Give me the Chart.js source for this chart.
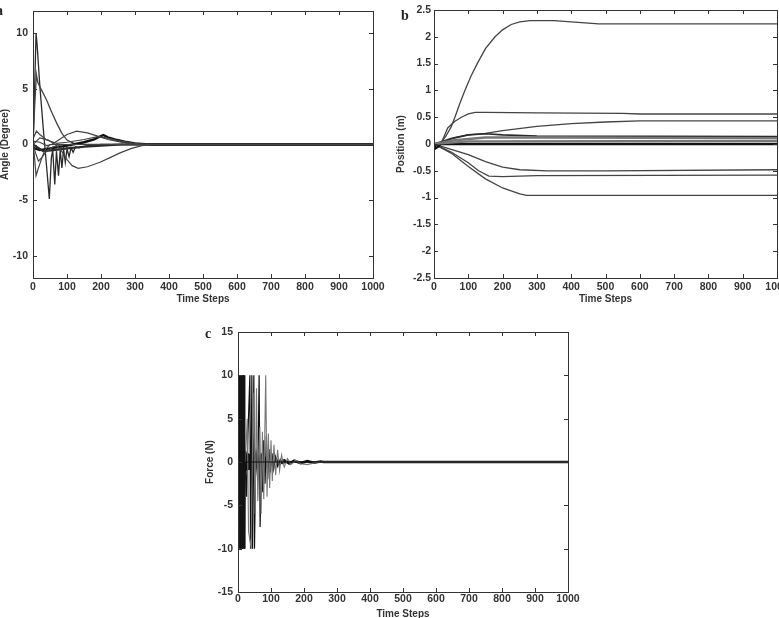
<!DOCTYPE html>
<html>
<head>
<meta charset="utf-8">
<script src="https://cdn.jsdelivr.net/npm/chart.js@4.4.1/dist/chart.umd.min.js"></script>
<style>
  body { margin: 0; background: #fff; overflow: hidden; width: 779px; height: 618px; position: relative; }
  .panel { position: absolute; }
  .tag { position: absolute; font: bold 14px 'Liberation Serif', 'Times New Roman', serif; color: #222; line-height: 14px; }
</style>
</head>
<body>
<div class="panel" style="left:0;top:0"><canvas id="chartA" width="390" height="305"></canvas></div>
<div class="panel" style="left:390px;top:0"><canvas id="chartB" width="410" height="305"></canvas></div>
<div class="panel" style="left:190px;top:305px"><canvas id="chartC" width="400" height="313"></canvas></div>
<div class="tag" style="left:-4px;top:4px">a</div>
<div class="tag" style="left:401px;top:9px">b</div>
<div class="tag" style="left:205px;top:327px">c</div>
<script>
// tick labels
const timeTicks = [0, 100, 200, 300, 400, 500, 600, 700, 800, 900, 1000];
const angleTicks = [-10, -5, 0, 5, 10];
const positionTicks = [-2.5, -2, -1.5, -1, -0.5, 0, 0.5, 1, 1.5, 2, 2.5];
const forceTicks = [-15, -10, -5, 0, 5, 10, 15];

// (a) angle, degrees vs time step
const angleSpike = [[0,0],[3,3],[9,10],[12,9],[20,5.3],[30,1.5],[40,-2],[48,-4.9],[54,-1.2],[58,-0.5],[64,-3.6],[69,-0.6],[75,-2.8],[80,-0.5],[85,-2.1],[90,-0.4],[95,-1.6],[100,-0.4],[106,-1.1],[112,-0.3],[118,-0.7],[125,-0.2],[135,-0.3],[160,-0.1],[200,0],[1000,0]];
const angleSlow = [[0,0],[5,3.5],[10,6.3],[14,5.6],[20,5.2],[40,4.0],[55,2.9],[70,1.9],[85,1.0],[100,0.4],[120,0.1],[150,0],[1000,0]];
const angleDip = [[0,0],[4,-1],[9,-2.8],[15,-2.2],[25,-1.3],[35,-0.5],[50,0],[1000,0]];
const angleDip2 = [[0,0],[8,-0.8],[16,-1.5],[25,-1.2],[40,-0.6],[60,-0.2],[90,0],[1000,0]];
const angleHumpUp = [[0,0.3],[20,0.2],[40,-0.1],[55,0],[80,0.5],[100,0.9],[128,1.2],[160,1.05],[190,0.75],[220,0.45],[260,0.2],[300,0.05],[340,0],[1000,0]];
const angleHumpDown = [[0,0],[20,0.6],[45,0.4],[65,0],[80,-0.4],[100,-1.35],[115,-1.9],[133,-2.15],[160,-2.0],[197,-1.6],[225,-1.2],[256,-0.75],[290,-0.35],[320,-0.1],[350,0],[1000,0]];
const anglePeak = [[0,-0.3],[20,-0.5],[60,-0.3],[100,-0.1],[150,0.2],[180,0.45],[195,0.7],[207,0.85],[220,0.65],[240,0.45],[270,0.25],[300,0.1],[330,0.03],[350,0],[1000,0]];
const angleSmall = [[0,0.5],[10,1.2],[20,0.9],[40,0.4],[70,0.1],[100,0.2],[150,0.45],[190,0.7],[215,0.6],[250,0.35],[290,0.15],[330,0],[1000,0]];
const angleFlat = [[0,0],[30,-0.6],[60,-0.5],[100,-0.35],[150,-0.2],[200,-0.1],[260,0],[1000,0]];

// (b) position, m vs time step
const posTop = [[0,0],[20,0.02],[35,0.15],[50,0.32],[61,0.5],[75,0.75],[90,1.0],[108,1.27],[126,1.5],[150,1.78],[178,2.0],[200,2.13],[225,2.23],[250,2.28],[280,2.3],[350,2.3],[420,2.27],[480,2.24],[1000,2.24]];
const posHigh = [[0,0],[20,0],[40,0.3],[60,0.42],[80,0.5],[100,0.56],[120,0.59],[150,0.59],[300,0.58],[550,0.57],[600,0.56],[1000,0.56]];
const posRise = [[0,0],[30,0.05],[60,0.12],[100,0.17],[150,0.2],[200,0.25],[300,0.33],[400,0.38],[500,0.41],[600,0.43],[1000,0.43]];
const posMid1 = [[0,0],[50,0.1],[100,0.17],[150,0.19],[200,0.17],[300,0.15],[1000,0.14]];
const posMid2 = [[0,0],[60,0.07],[150,0.12],[300,0.12],[1000,0.11]];
const posMid3 = [[0,0],[100,0.05],[1000,0.06]];
const posZero = [[0,0],[5,-0.08],[12,-0.05],[20,0],[1000,0]];
const posLow1 = [[0,0],[50,-0.1],[100,-0.2],[150,-0.33],[200,-0.43],[250,-0.48],[330,-0.5],[500,-0.5],[1000,-0.48]];
const posLow2 = [[0,0],[50,-0.15],[100,-0.35],[130,-0.5],[160,-0.6],[200,-0.61],[300,-0.59],[1000,-0.58]];
const posLow3 = [[0,0],[50,-0.17],[100,-0.42],[150,-0.65],[200,-0.82],[250,-0.93],[270,-0.96],[1000,-0.96]];

// (c) force, N vs time step
const forceSwitch = [[0,10],[1,-10],[2,10],[3,-10],[4,10],[5,-10],[6,10],[7,-10],[8,10],[9,-10],[10,10],[11,-10],[12,10],[13,-10],[14,10],[15,-10],[16,10],[17,-10],[18,10],[19,-10],[20,10],[21,-10],[22,0],[1000,0]];
const forceDark = [[22,0],[26,-4],[30,3],[36,10],[38,-10],[42,10],[44,-10],[48,10],[50,-10],[54,1],[60,-2],[64,10],[67,-7.5],[71,1],[75,-3.5],[78,2.5],[82,-2.5],[86,3],[90,-2],[94,1.5],[98,-1.2],[103,1],[108,-0.8],[114,0.6],[120,-0.5],[128,0.3],[136,-0.2],[150,0.1],[170,0],[1000,0]];
const forceGray = [[22,0],[28,5],[32,-8],[40,-10],[46,8],[52,-6],[56,8.5],[60,-4.5],[66,4],[70,-6],[74,3.5],[78,-4.3],[84,10],[88,-4],[92,3.3],[96,-3],[100,2.5],[104,-2.2],[109,2],[114,-1.5],[120,1.4],[126,-1],[132,0.8],[140,-0.6],[150,0.4],[160,-0.3],[175,0.2],[190,-0.2],[210,-0.3],[230,-0.1],[250,0],[1000,0]];
const forceBand = [[0,1.2],[22,1.1],[26,-1],[30,1],[34,-0.9],[38,0.9],[42,-0.8],[46,0.8],[50,-0.7],[55,0.7],[60,-0.6],[66,0.6],[72,-0.5],[80,0.45],[88,-0.4],[96,0.35],[105,-0.3],[115,0.3],[125,-0.25],[140,0.2],[155,-0.18],[170,0.15],[190,-0.12],[210,0.1],[230,-0.08],[250,0.05],[260,0],[1000,0]];

const tickFont = { family: "'Liberation Sans Narrow', 'Liberation Sans', Arial, sans-serif", size: 10.5, weight: 'bold' };
const titleFont = { family: "'Liberation Sans Narrow', 'Liberation Sans', Arial, sans-serif", size: 10, weight: 'bold' };

function line(points, color, width) {
  return {
    data: points.map(p => ({ x: p[0], y: p[1] })),
    borderColor: color,
    borderWidth: width,
    pointRadius: 0,
    tension: 0,
    fill: false
  };
}

// MATLAB style box with inward ticks on all sides
const framePlugin = {
  id: 'frame',
  afterDraw(chart) {
    const { ctx, chartArea: a, scales } = chart;
    ctx.save();
    ctx.strokeStyle = '#333';
    ctx.lineWidth = 1;
    ctx.strokeRect(Math.round(a.left) + 0.5, Math.round(a.top) + 0.5, Math.round(a.right - a.left), Math.round(a.bottom - a.top));
    ctx.beginPath();
    scales.x.ticks.forEach(t => {
      const px = Math.round(scales.x.getPixelForValue(t.value)) + 0.5;
      ctx.moveTo(px, a.bottom); ctx.lineTo(px, a.bottom - 4);
      ctx.moveTo(px, a.top); ctx.lineTo(px, a.top + 4);
    });
    scales.y.ticks.forEach(t => {
      const py = Math.round(scales.y.getPixelForValue(t.value)) + 0.5;
      ctx.moveTo(a.left, py); ctx.lineTo(a.left + 4, py);
      ctx.moveTo(a.right, py); ctx.lineTo(a.right - 4, py);
    });
    ctx.stroke();
    ctx.restore();
  }
};

function makeChart(id, datasets, c) {
  return new Chart(document.getElementById(id), {
    type: 'line',
    data: { datasets },
    options: {
      responsive: false,
      animation: false,
      layout: { padding: { top: c.padTop, right: c.padRight, left: 0, bottom: 0 } },
      plugins: { legend: { display: false }, tooltip: { enabled: false } },
      scales: {
        x: {
          type: 'linear', min: 0, max: 1000,
          grid: { display: false, drawTicks: false },
          border: { display: false },
          afterBuildTicks: s => { s.ticks = timeTicks.map(v => ({ value: v })); },
          afterFit: s => { s.height = c.xHeight; s.paddingLeft = 0; s.paddingRight = 0; },
          ticks: { color: '#333', font: tickFont, padding: c.xPad, maxRotation: 0, callback: v => String(v) },
          title: { display: true, text: 'Time Steps', color: '#333', font: titleFont, padding: { top: 0, bottom: c.xTitlePad } }
        },
        y: {
          min: c.yMin, max: c.yMax,
          grid: { display: false, drawTicks: false },
          border: { display: false },
          afterBuildTicks: s => { s.ticks = c.yTicks.map(v => ({ value: v })); },
          afterFit: s => { s.width = c.yWidth; s.paddingTop = 0; s.paddingBottom = 0; },
          ticks: { color: '#333', font: tickFont, padding: c.yPad, callback: v => String(v) },
          title: { display: true, text: c.yTitle, color: '#333', font: titleFont, padding: { top: c.yTitlePad, bottom: 0 } }
        }
      }
    },
    plugins: [framePlugin]
  });
}

const dark = '#2a2a2a', mid = '#444', light = '#777';

makeChart('chartA', [
  line(angleHumpUp, mid, 1.2),
  line(angleHumpDown, mid, 1.2),
  line(angleDip, mid, 1.2),
  line(angleDip2, mid, 1.2),
  line(angleSmall, mid, 1.2),
  line(angleFlat, dark, 2.2),
  line(anglePeak, '#111', 2.4),
  line(angleSlow, mid, 1.3),
  line(angleSpike, dark, 1.3)
], { yMin: -12, yMax: 12, yTicks: angleTicks, yTitle: 'Angle (Degree)', padTop: 11, padRight: 17, yWidth: 33, xHeight: 27, xPad: 3, yPad: 5, xTitlePad: 0, yTitlePad: -1 });

makeChart('chartB', [
  line(posMid3, light, 2.2),
  line(posZero, '#111', 2.4),
  line(posMid2, light, 2.4),
  line(posMid1, dark, 1.6),
  line(posRise, mid, 1.3),
  line(posHigh, mid, 1.3),
  line(posTop, mid, 1.3),
  line(posLow1, mid, 1.3),
  line(posLow2, mid, 1.3),
  line(posLow3, mid, 1.3)
], { yMin: -2.5, yMax: 2.5, yTicks: positionTicks, yTitle: 'Position (m)', padTop: 10, padRight: 23, yWidth: 44, xHeight: 27, xPad: 3, yPad: 3, xTitlePad: 0, yTitlePad: 5 });

makeChart('chartC', [
  line(forceSwitch, '#111', 1),
  line(forceGray, light, 1.1),
  line(forceDark, '#111', 1.2),
  line(forceBand, '#111', 2.6)
], { yMin: -15, yMax: 15, yTicks: forceTicks, yTitle: 'Force (N)', padTop: 27, padRight: 22, yWidth: 48, xHeight: 26, xPad: 1, yPad: 5, xTitlePad: -2, yTitlePad: 14 });
</script>
</body>
</html>
